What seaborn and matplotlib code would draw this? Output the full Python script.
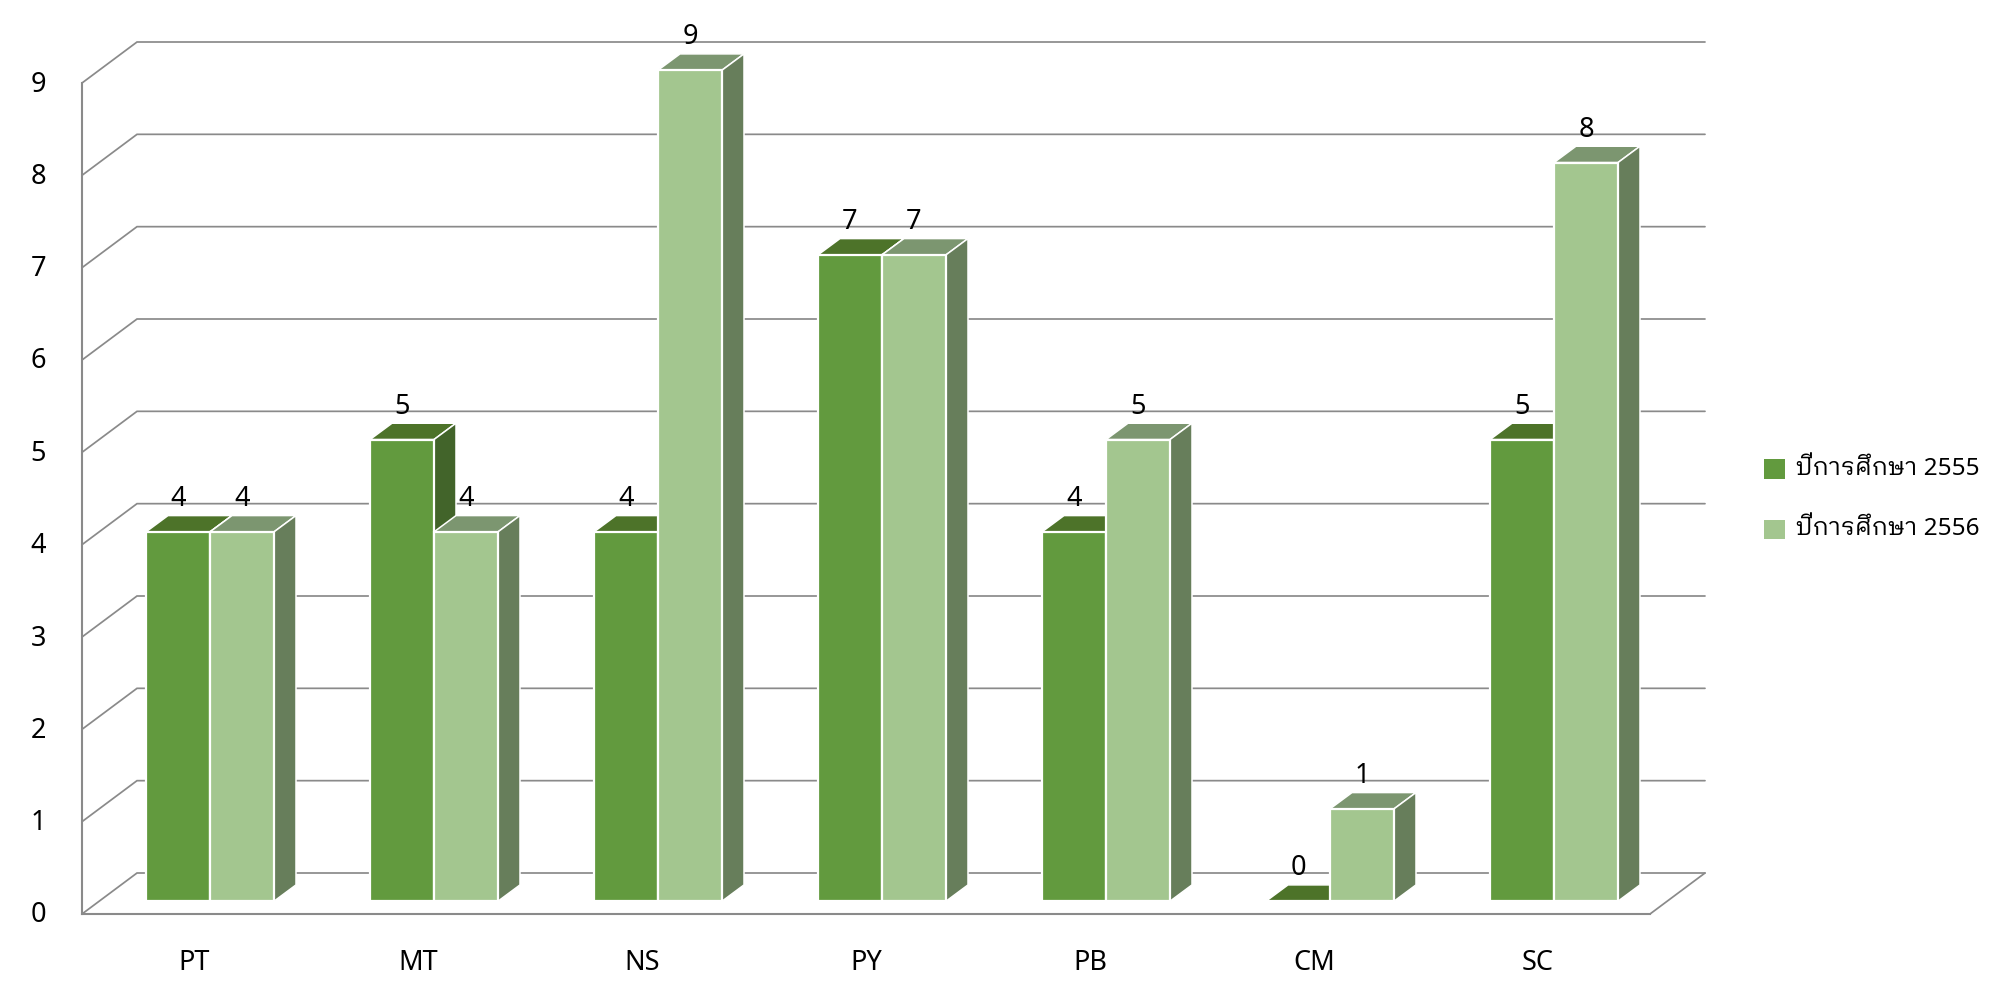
import matplotlib
matplotlib.use("Agg")
import matplotlib.pyplot as plt
from matplotlib.patches import Polygon
from matplotlib.transforms import ScaledTranslation
import pandas as pd
import seaborn as sns

categories = ["PT", "MT", "NS", "PY", "PB", "CM", "SC"]
series_names = ["ปีการศึกษา 2555", "ปีการศึกษา 2556"]
values_2555 = [4, 5, 4, 7, 4, 0, 5]
values_2556 = [4, 4, 9, 7, 5, 1, 8]
colors = ["#629a3e", "#a3c68f"]
top_colors = ["#4d7329", "#7c9670"]
side_colors = ["#42642a", "#677e5b"]

sns.set_theme(style="white")
plt.rcParams["font.family"] = ["Noto Sans", "IBM Plex Sans Thai Looped", "DejaVu Sans"]
FS = 19.5
LEG_FS = 17.5

W, H, PX = 2000, 1001, 1 / 100
fig = plt.figure(figsize=(W * PX, H * PX), dpi=100)
ax = fig.add_axes([82 / W, (H - 914) / H, 1568 / W, 831 / H])

df = pd.DataFrame({
    "cat": categories * 2,
    "year": [series_names[0]] * 7 + [series_names[1]] * 7,
    "v": values_2555 + values_2556,
})
sns.barplot(data=df, x="cat", y="v", hue="year", palette=colors, width=4 / 7, gap=0,
            saturation=1, ax=ax, order=categories, hue_order=series_names, zorder=3)
ax.set_xlim(-0.5, 6.5)
ax.set_ylim(0, 9)
ax.set_xlabel("")
ax.set_ylabel("")
ax.set_yticks(range(10))
ax.tick_params(axis="x", length=0, pad=25, labelsize=FS, labelcolor="black")
ax.tick_params(axis="y", length=0, pad=26, labelsize=FS, labelcolor="black")
up = ScaledTranslation(0, 2 * PX, fig.dpi_scale_trans)
for lab in ax.get_yticklabels():
    lab.set_transform(lab.get_transform() + up)

ux, uy = 7 / 1568, 9 / 831
# wall and floor
line = dict(color="#8a8a8a", lw=1.25, clip_on=False, zorder=1, solid_joinstyle="miter")
for sp in ("top", "right"):
    ax.spines[sp].set_visible(False)
for sp in ("left", "bottom"):
    ax.spines[sp].set_color("#8a8a8a")
    ax.spines[sp].set_linewidth(1.5)
bx, by = 55 * ux, 41 * uy
for k in range(10):
    ax.plot([-0.5, -0.5 + bx, 6.5 + bx], [k, k + by, k + by], **line)
ax.plot([6.5, 6.5 + bx], [0, by], **line)

# bars with depth
ox, oy = 16 * ux, 12.8 * uy
dx, dy = 22 * ux, 16.3 * uy
for s, cont in enumerate(ax.containers):
    for i, bar in enumerate(cont):
        x0 = bar.get_x() + ox
        x1 = x0 + bar.get_width()
        h = bar.get_height()
        bar.set_x(x0)
        bar.set_y(oy)
        bar.set_edgecolor("white")
        bar.set_linewidth(1.6)
        bar.set_clip_on(False)
        bar.set_zorder(3 + 2 * s + 0.5)
        top = oy + h
        ax.add_patch(Polygon([(x0, top), (x0 + dx, top + dy), (x1 + dx, top + dy), (x1, top)],
                             fc=top_colors[s], ec="white", lw=1.1, clip_on=False, zorder=3 + 2 * s))
        if h > 0:
            ax.add_patch(Polygon([(x1, oy), (x1 + dx, oy + dy), (x1 + dx, top + dy), (x1, top)],
                                 fc=side_colors[s], ec="white", lw=1.1, clip_on=False, zorder=3 + 2 * s))
        ax.text((x0 + x1) / 2, top + 33 * uy, f"{h:.0f}", ha="center", va="center",
                fontsize=FS, color="black", zorder=10, clip_on=False)

sns.move_legend(ax, "upper left", bbox_to_anchor=(1757 / W, (H - 452) / H),
                bbox_transform=fig.transFigure, title=None, frameon=False, fontsize=LEG_FS,
                handlelength=0.864, handleheight=0.864, handletextpad=0.42, labelspacing=1.49,
                borderpad=0.3, borderaxespad=0, labelcolor="black")
for h in ax.get_legend().get_patches():
    h.set_edgecolor("none")
for t in ax.get_legend().get_texts():
    t.set_y(3)

fig.savefig("out.png", dpi=100)
